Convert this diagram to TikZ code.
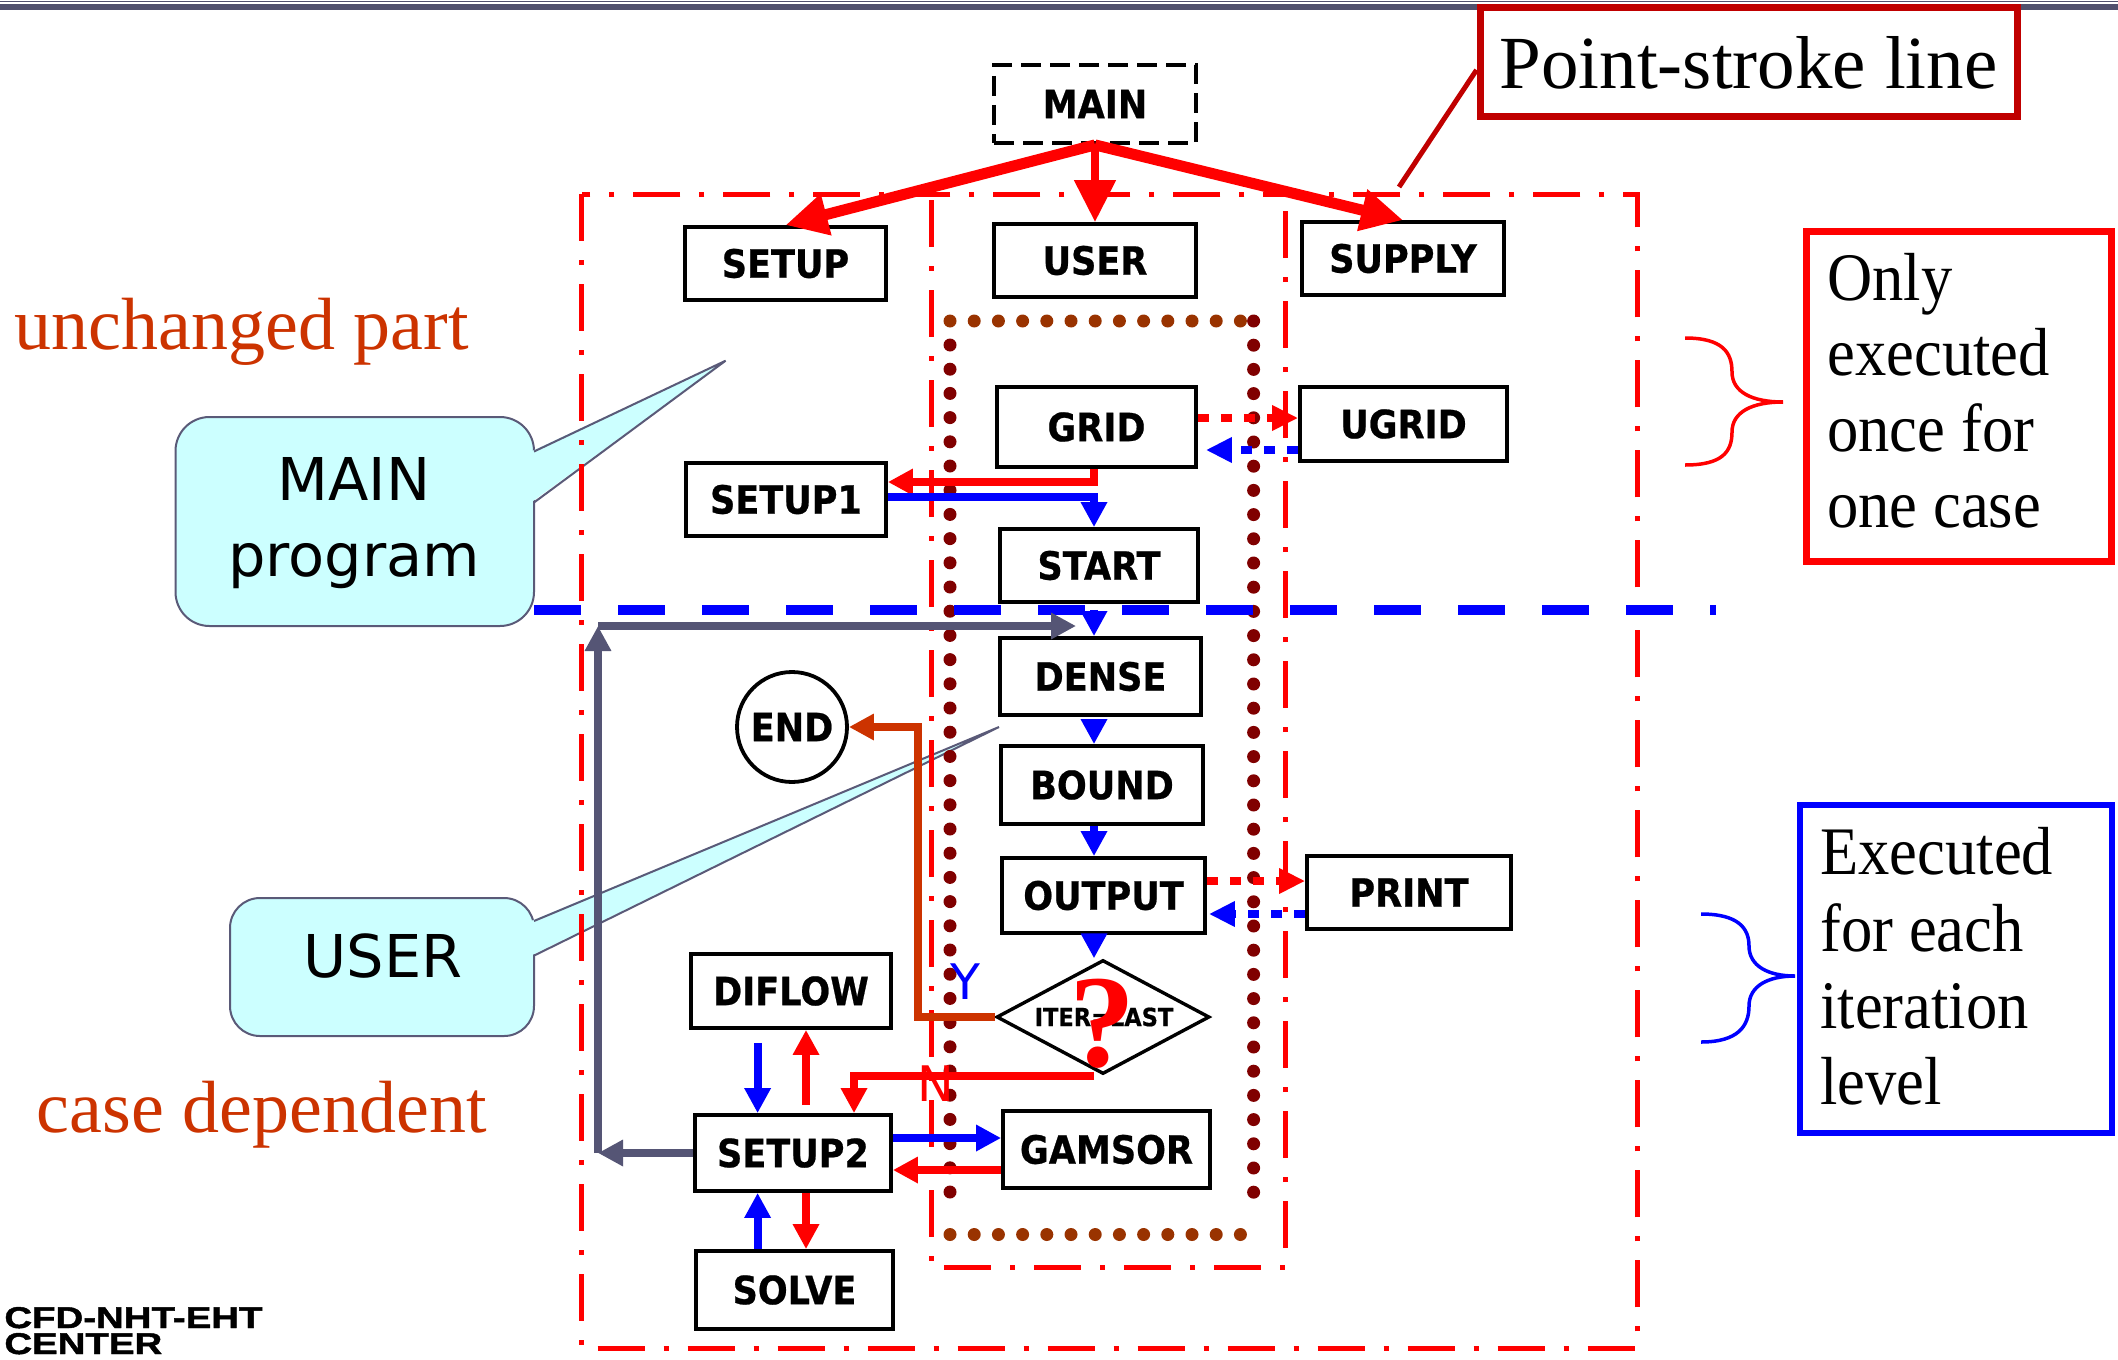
\documentclass[tikz,border=0pt]{standalone}
\usepackage{fontspec}
\setmainfont{Liberation Serif}
\newfontfamily\boxfont[FakeStretch=0.9,BoldFeatures={FakeBold=0.6}]{DejaVu Sans}
\newfontfamily\callfont{DejaVu Sans}
\newfontfamily\cfdfont[FakeStretch=1.28,BoldFeatures={FakeBold=1.5}]{Liberation Sans}
\newfontfamily\noteserif[FakeStretch=0.92]{Liberation Serif}
\usetikzlibrary{arrows.meta,shapes.geometric}
\definecolor{fred}{HTML}{FF0000}
\definecolor{fblue}{HTML}{0000FF}
\definecolor{darkred}{HTML}{C00000}
\definecolor{rust}{HTML}{CC3300}
\definecolor{slate}{HTML}{555575}
\definecolor{topbar}{HTML}{50506E}
\definecolor{callfill}{HTML}{CCFFFF}
\definecolor{callline}{HTML}{5A5A78}
\definecolor{dotbrown}{HTML}{993300}
\definecolor{dotmaroon}{HTML}{800000}
\begin{document}
\begin{tikzpicture}[x=0.5pt,y=-0.5pt,
  pbox/.style={draw=black,line width=1.9pt,fill=white,inner sep=0pt,
    font=\boxfont\bfseries\fontsize{19.5}{22}\selectfont},
  frameline/.style={draw=fred,line width=2.5pt,dash pattern=on 23.5pt off 9.5pt on 2.5pt off 9.5pt},
  dotrow/.style={line width=6.5pt,line cap=round,dash pattern=on 0pt off 12.1pt},
  conn/.style={line width=3.9pt},
  tipsmall/.style={-{Triangle[length=12.5pt,width=12.5pt]}},
  tipbig/.style={-{Triangle[length=21pt,width=20pt]}},
  dotconn/.style={line width=3.8pt,dash pattern=on 5.5pt off 6pt,-{Triangle[length=13pt,width=12pt]}},
  callshape/.style={fill=callfill,draw=callline,line width=1pt},
  callfnt/.style={font=\callfont\fontsize{29.5}{35}\selectfont,inner sep=0pt,anchor=base},
  sidefnt/.style={font=\fontsize{37}{44}\selectfont,text=rust,inner sep=0pt,anchor=base west},
  notefnt/.style={font=\noteserif\fontsize{34}{40}\selectfont,inner sep=0pt,anchor=base west},
  cfdfnt/.style={font=\cfdfont\bfseries\fontsize{15}{17}\selectfont,inner sep=0pt,anchor=base west}
]
\useasboundingbox (0,0) rectangle (2118,1359);
\fill[white] (0,0) rectangle (2118,1359);
% top bar
\fill[topbar] (0,4) rectangle (2118,10);
\fill[topbar] (0,1) rectangle (2118,2.5);

% callouts (bottom layer)
\path[callshape,rounded corners=17pt] (175.5,417) rectangle (534,626);
\fill[callfill] (531,451.5) -- (725.6,360.7) -- (531,502.5) -- cycle;
\draw[callline,line width=1pt] (534,451.5) -- (725.6,360.7) -- (534,502.5);
\node[callfnt] (cmain1) at (354,500) {MAIN};
\node[callfnt] (cmain2) at (354,576.5) {program};

\path[callshape,rounded corners=15pt] (230,898) rectangle (534,1036);
\fill[callfill] (531,921) -- (999,727) -- (531,955.6) -- cycle;
\draw[callline,line width=1pt] (534,921) -- (999,727) -- (534,955.6);
\node[callfnt] (cuser) at (383,977) {USER};

% frames
\draw[frameline] (581.6,194) rectangle (1637,1348);
\draw[frameline] (931,200) -- (931,1267) -- (1285,1267) -- (1285,200);

% dotted box
\draw[dotrow,dotbrown] (950,321) -- (1241,321);
\draw[dotrow,dotbrown] (950,1234.5) -- (1241,1234.5);
\draw[dotrow,dotmaroon] (950,345) -- (950,1200);
\draw[dotrow,dotmaroon] (1253.6,321) -- (1253.6,1200);

% blue dashed divider
\draw[fblue,line width=5.3pt,dash pattern=on 23.5pt off 18.5pt] (534,610) -- (1716,610);

% side texts
\node[sidefnt] (tunch) at (14.5,349.5) {unchanged part};
\node[sidefnt] (tcase) at (36.5,1132) {case dependent};

% boxes
\node[pbox,dash pattern=on 10pt off 4.5pt,minimum width=101pt,minimum height=39pt] (MAIN) at (1095,104) {MAIN};
\node[pbox,minimum width=100.5pt,minimum height=36.5pt] (SETUP) at (785.5,263.5) {SETUP};
\node[pbox,minimum width=101pt,minimum height=36.5pt] (USER) at (1095,260.5) {USER};
\node[pbox,minimum width=101pt,minimum height=36.5pt] (SUPPLY) at (1403,258.5) {SUPPLY};
\node[pbox,minimum width=99.5pt,minimum height=40pt] (GRID) at (1096.5,427) {GRID};
\node[pbox,minimum width=103.5pt,minimum height=37pt] (UGRID) at (1403.5,424) {UGRID};
\node[pbox,minimum width=100pt,minimum height=36.5pt] (SETUP1) at (786,499.5) {SETUP1};
\node[pbox,minimum width=99pt,minimum height=36.5pt] (START) at (1099,565.5) {START};
\node[pbox,minimum width=100.5pt,minimum height=38.5pt] (DENSE) at (1100.5,676.5) {DENSE};
\node[pbox,minimum width=101pt,minimum height=39pt] (BOUND) at (1102,785) {BOUND};
\node[pbox,minimum width=101.5pt,minimum height=37.5pt] (OUTPUT) at (1103.5,895.5) {OUTPUT};
\node[pbox,minimum width=102pt,minimum height=36.5pt] (PRINT) at (1409,892.5) {PRINT};
\node[pbox,minimum width=100pt,minimum height=37pt] (DIFLOW) at (791,991) {DIFLOW};
\node[pbox,minimum width=98pt,minimum height=38pt] (SETUP2) at (793,1153) {SETUP2};
\node[pbox,minimum width=103.5pt,minimum height=38.5pt] (GAMSOR) at (1106.5,1149.5) {GAMSOR};
\node[pbox,minimum width=98.5pt,minimum height=39pt] (SOLVE) at (794.5,1290) {SOLVE};
\node[pbox,circle,minimum size=55pt] (END) at (792,727) {END};
\node[draw=black,fill=white,diamond,line width=1.7pt,minimum width=106.5pt,minimum height=57pt,inner sep=0pt] (DIA) at (1103,1017) {};
\node[inner sep=0pt,font=\boxfont\bfseries\fontsize{12.5}{14}\selectfont] (ITER) at (1104,1017) {ITER=LAST};
\node[inner sep=0pt,text=fred,font=\bfseries\fontsize{66}{70}\selectfont] (QM) at (1102,1024) {?};

% helper coordinates
\coordinate (cx) at (1094,0);
\coordinate (yA) at (0,482);
\coordinate (yB) at (0,497);
\coordinate (yG1) at (0,418);
\coordinate (yG2) at (0,450);
\coordinate (yO1) at (0,881);
\coordinate (yO2) at (0,914);
\coordinate (xE) at (918,0);
\coordinate (xN) at (854,0);
\coordinate (xb) at (757.6,0);
\coordinate (xr) at (806,0);
\coordinate (yS1) at (0,1138);
\coordinate (yS2) at (0,1170);
\coordinate (g1) at (598,1153);
\coordinate (g2) at (598,626);
\coordinate (g3) at (1076,626);
\coordinate (psfoot) at (1399,187);
\coordinate (psy) at (0,70);

% arrows from MAIN
\draw[fred,line width=5.5pt,tipbig] (MAIN.south) -- (SETUP.north);
\draw[fred,line width=4pt,tipbig] (MAIN.south) -- (USER.north);
\draw[fred,line width=5.5pt,tipbig] (MAIN.south) -- (SUPPLY.north);

% GRID / SETUP1 / START
\draw[conn,fred,tipsmall] (GRID.south -| cx) |- (SETUP1.east |- yA);
\draw[conn,fblue,tipsmall] (SETUP1.east |- yB) -| (START.north -| cx);
\draw[dotconn,fred] (GRID.east |- yG1) -- (UGRID.west |- yG1);
\draw[dotconn,fblue,shorten >=4pt] (UGRID.west |- yG2) -- (GRID.east |- yG2);

% main column
\draw[conn,fblue,tipsmall,shorten <=3pt] (START.south -| cx) -- (DENSE.north -| cx);
\draw[conn,fblue,tipsmall,shorten <=3pt] (DENSE.south -| cx) -- (BOUND.north -| cx);
\draw[conn,fblue,tipsmall] (BOUND.south -| cx) -- (OUTPUT.north -| cx);
\draw[conn,fblue,tipsmall] (OUTPUT.south -| cx) -- (DIA.north -| cx);
\draw[dotconn,fred] (OUTPUT.east |- yO1) -- (PRINT.west |- yO1);
\draw[dotconn,fblue,shorten >=1pt] (PRINT.west |- yO2) -- (OUTPUT.east |- yO2);

% decision
\draw[conn,rust,tipsmall] (DIA.west) -- (DIA.west -| xE) -- (END.east -| xE) -- (END.east);
\draw[conn,fred,tipsmall] (DIA.south -| cx) -- (DIA.south -| xN) -- (SETUP2.north -| xN);
\node[inner sep=0pt,anchor=base,text=fblue,font=\callfont\fontsize{24.5}{28}\selectfont] (ylab) at (965.5,999) {Y};
\node[inner sep=0pt,anchor=base,text=fred,font=\callfont\fontsize{24.5}{28}\selectfont] (nlab) at (936,1101) {N};

% SETUP2 cluster
\draw[conn,fblue,tipsmall,shorten <=6.5pt] (DIFLOW.south -| xb) -- (SETUP2.north -| xb);
\draw[conn,fred,tipsmall,shorten <=4pt] (SETUP2.north -| xr) -- (DIFLOW.south -| xr);
\draw[conn,fblue,tipsmall] (SETUP2.east |- yS1) -- (GAMSOR.west |- yS1);
\draw[conn,fred,tipsmall] (GAMSOR.west |- yS2) -- (SETUP2.east |- yS2);
\draw[conn,fblue,tipsmall] (SOLVE.north -| xb) -- (SETUP2.south -| xb);
\draw[conn,fred,tipsmall] (SETUP2.south -| xr) -- (SOLVE.north -| xr);

% gray loop
\draw[conn,slate,tipsmall] (SETUP2.west) -- (g1);
\draw[conn,slate,tipsmall] (g1) -- (g2);
\draw[conn,slate,tipsmall] (g2) -- (g3);

% point-stroke label
\node[draw=darkred,line width=3.5pt,fill=white,minimum width=268.5pt,minimum height=54.5pt,inner sep=0pt,font=\fontsize{37.5}{42}\selectfont] (PSL) at (1748.5,62.5) {Point-stroke line};
\draw[darkred,line width=2.5pt] (psfoot) -- (PSL.west |- psy);

% right notes
\node[draw=fred,line width=3.5pt,minimum width=152.5pt,minimum height=165pt,inner sep=0pt] (ONLY) at (1958.5,396) {};
\node[notefnt] (on1) at (1827,300) {Only};
\node[notefnt] (on2) at (1827,375.7) {executed};
\node[notefnt] (on3) at (1827,451.5) {once for};
\node[notefnt] (on4) at (1827,527) {one case};
\node[draw=fblue,line width=2.75pt,minimum width=156pt,minimum height=164pt,inner sep=0pt] (EXEC) at (1956,969) {};
\node[notefnt] (ex1) at (1820,874) {Executed};
\node[notefnt] (ex2) at (1820,951) {for each};
\node[notefnt] (ex3) at (1820,1028) {iteration};
\node[notefnt] (ex4) at (1820,1104) {level};

% braces
\draw[fred,line width=1.75pt] (1685,338) .. controls (1722,338) and (1732,352) .. (1732,372) .. controls (1732,392) and (1752,402) .. (1783,402) .. controls (1752,402) and (1732,412) .. (1732,432) .. controls (1732,452) and (1722,465) .. (1685,465);
\draw[fblue,line width=1.75pt] (1701,914) .. controls (1738,914) and (1749,928) .. (1749,946) .. controls (1749,966) and (1768,976) .. (1795,976) .. controls (1768,976) and (1749,986) .. (1749,1006) .. controls (1749,1026) and (1738,1042) .. (1701,1042);

% logo text
\node[cfdfnt] (cfd1) at (4,1328) {CFD-NHT-EHT};
\node[cfdfnt] (cfd2) at (4,1354) {CENTER};
\end{tikzpicture}
\end{document}
